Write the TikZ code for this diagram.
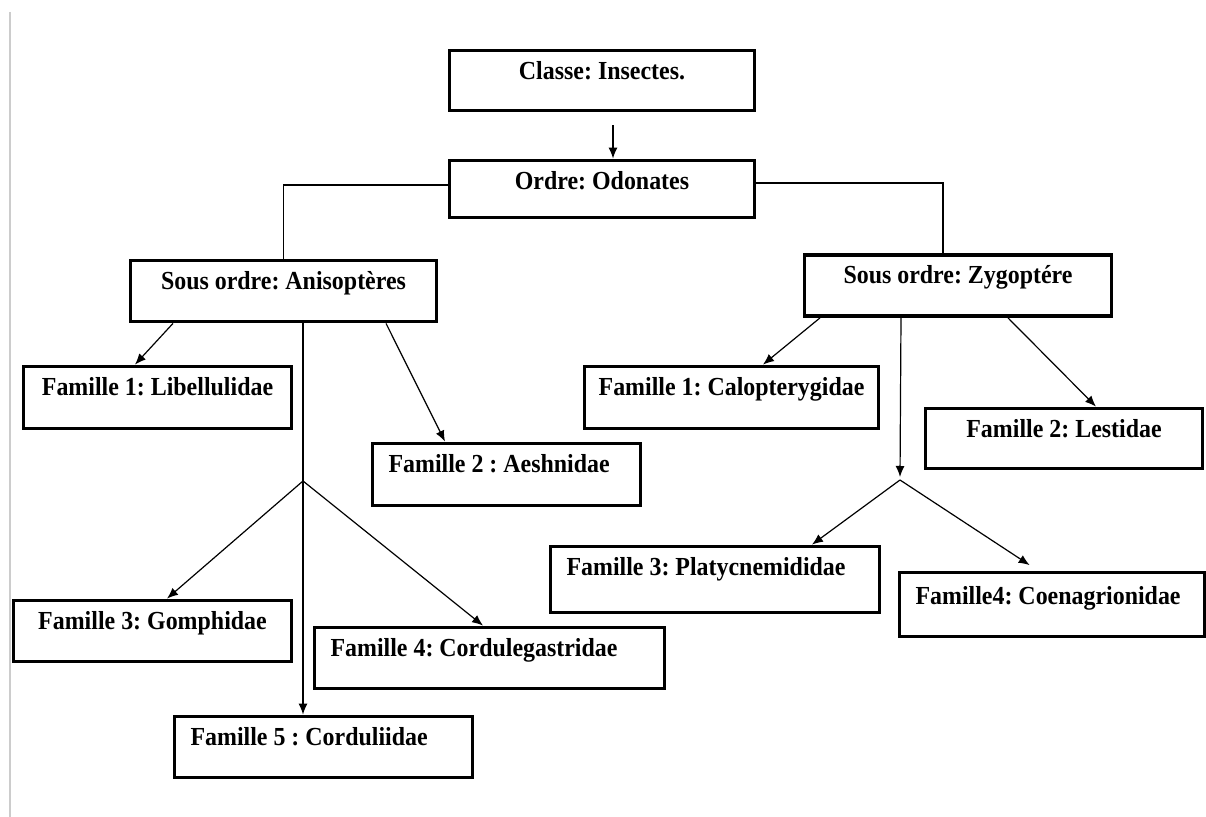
\documentclass[tikz,border=0pt]{standalone}
\usepackage{fontspec}
\setmainfont[FakeStretch=0.92]{Liberation Serif}
\usetikzlibrary{arrows.meta}
\frenchspacing

\begin{document}
\begin{tikzpicture}[x=0.5pt,y=-0.5pt,
    box/.style={draw, line width=1.9pt, rectangle, inner ysep=0pt,
      text height=14.5pt, text depth=16pt,
      font=\fontsize{13}{15}\selectfont\bfseries, minimum width=#1},
    lbox/.style={box, inner xsep=8pt, text width=#1-14pt, align=flush left},
    link/.style={line width=0.6pt},
    arr/.style={link, -{Latex[length=5.5pt,width=4.5pt]}}]
  \useasboundingbox (0,0) rectangle (1206,817);
  \draw [black!20, line width=0.8pt] (10,12) -- (10,817);

  \node [box=152.5pt, text depth=15.5pt] (classe) at (602,80.5) {Classe: Insectes.};
  \node [box=152.5pt, text depth=14pt] (ordre) at (602,189) {Ordre: Odonates};
  \node [box=153pt] (aniso) at (283.5,291) {Sous ordre: Anisoptères};
  \node [box=153.5pt] (zygo) at (958,285.5) {Sous ordre: Zygoptére};

  % Anisopteres
  \node [box=134pt, text depth=16.5pt] (libel) at (157.5,397.5) {Famille 1: Libellulidae};
  \node [lbox=132pt, text depth=16.5pt] (aeshn) at (506.5,474.5) {Famille 2 : Aeshnidae};
  \node [box=139pt] (gomph) at (152.5,631) {Famille 3: Gomphidae};
  \node [lbox=173pt] (cordg) at (489.5,658) {Famille 4: Cordulegastridae};
  \node [lbox=147pt] (cordl) at (323.5,747) {Famille 5 : Corduliidae};
  \coordinate (fa) at (303,481);

  % Zygopteres
  \node [box=147pt, text depth=16.5pt] (calop) at (731.5,397.5) {Famille 1: Calopterygidae};
  \node [box=138.5pt, text depth=15.5pt] (lestid) at (1064,438.5) {Famille 2: Lestidae};
  \node [lbox=162.5pt, text depth=18.5pt] (platy) at (715,579.5) {Famille 3: Platycnemididae};
  \node [lbox=150.5pt, text height=16pt] (coena) at (1052,604.5) {Famille4: Coenagrionidae};
  \coordinate (fz) at (900,480);

  \draw [arr, shorten <=6.5pt] ([xshift=5.5pt]classe.south) -- ([xshift=5.5pt]ordre.north);
  \draw [link] ([yshift=2pt]ordre.west) -| (aniso.north);
  \draw [link] ([yshift=3pt]ordre.east) -| ([xshift=-7.5pt]zygo.north);

  \draw [arr] ([xshift=-55.25pt]aniso.south) -- ([xshift=-11.25pt]libel.north);
  \draw [arr] ([xshift=51.25pt]aniso.south) -- ([xshift=-30.75pt]aeshn.north);
  \draw [link] ([xshift=9.75pt]aniso.south) -- (fa);
  \draw [arr] (fa) -- ([xshift=7.25pt]gomph.north);
  \draw [arr] (fa) -- ([xshift=-3.25pt]cordg.north);
  \draw [arr] (fa) -- ([xshift=-10.25pt]cordl.north);

  \draw [arr] ([xshift=-69pt]zygo.south) -- ([xshift=15.75pt]calop.north);
  \draw [arr] ([xshift=25pt]zygo.south) -- ([xshift=16pt]lestid.north);
  \draw [arr, shorten >=1.5pt] ([xshift=-28.5pt]zygo.south) -- (fz);
  \draw [arr] (fz) -- ([xshift=48.5pt]platy.north);
  \draw [arr, shorten >=5pt] (fz) -- ([xshift=-7pt]coena.north);
\end{tikzpicture}
\end{document}
